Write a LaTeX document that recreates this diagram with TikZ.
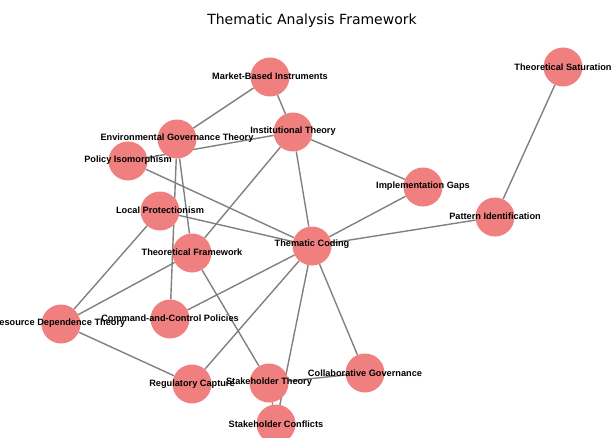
\documentclass[tikz,border=0pt]{standalone}
\usepackage{fontspec}
\setmainfont{Liberation Sans}
\newfontfamily\titlefont{DejaVu Sans}
\definecolor{nodefill}{RGB}{240,128,128}
\definecolor{edgegray}{RGB}{128,128,128}
\pgfdeclarelayer{bg}
\pgfsetlayers{bg,main}
\begin{document}
\begin{tikzpicture}[x=1pt,y=1pt,
  vert/.style={circle,fill=nodefill,draw=none,minimum size=39pt,inner sep=0pt},
  lbl/.style={font=\bfseries\fontsize{9.2}{10}\selectfont,text=black,inner sep=0pt},
  edge/.style={draw=edgegray,line width=1.4pt}]
\useasboundingbox (0,0) rectangle (612,437);
\node[font=\titlefont\fontsize{14}{16}\selectfont] (title) at (312,416) {Thematic Analysis Framework};
% nodes
\node[vert] (mb) at (270,360) {};
\node[vert] (it) at (293,305) {};
\node[vert] (egt) at (177,298) {};
\node[vert] (pi) at (128,276) {};
\node[vert] (lp) at (160,226) {};
\node[vert] (tf) at (192,184) {};
\node[vert] (tc) at (312,191) {};
\node[vert] (ig) at (423,250) {};
\node[vert] (pat) at (495,220) {};
\node[vert] (ts) at (563,370) {};
\node[vert] (rdt) at (61,113) {};
\node[vert] (ccp) at (170,118) {};
\node[vert] (rc) at (192,53) {};
\node[vert] (st) at (269,54) {};
\node[vert] (sc) at (276,13) {};
\node[vert] (cg) at (365,64) {};
% edges
\begin{pgfonlayer}{bg}
\foreach \a/\b in {mb/egt,mb/it,pi/it,pi/tc,egt/tf,egt/ccp,it/tf,it/tc,it/ig,ig/tc,pat/tc,pat/ts,lp/tc,lp/rdt,tf/rdt,tf/st,ccp/tc,rdt/rc,rc/tc,tc/sc,st/sc,st/cg,cg/tc}
  \draw[edge] (\a) -- (\b);
\end{pgfonlayer}
% labels
\node[lbl] (mb-t) at ([yshift=1pt]mb) {Market-Based Instruments};
\node[lbl] (it-t) at ([yshift=1pt]it) {Institutional Theory};
\node[lbl] (egt-t) at ([yshift=1pt]egt) {Environmental Governance Theory};
\node[lbl] (pi-t) at ([yshift=1pt]pi) {Policy Isomorphism};
\node[lbl] (lp-t) at ([yshift=1pt]lp) {Local Protectionism};
\node[lbl] (tf-t) at ([yshift=1pt]tf) {Theoretical Framework};
\node[lbl] (tc-t) at ([yshift=2pt]tc) {Thematic Coding};
\node[lbl] (ig-t) at ([yshift=1pt]ig) {Implementation Gaps};
\node[lbl] (pat-t) at ([yshift=1pt]pat) {Pattern Identification};
\node[lbl] (ts-t) at ([yshift=0pt]ts) {Theoretical Saturation};
\node[lbl] (rdt-t) at ([xshift=-2pt,yshift=1pt]rdt) {Resource Dependence Theory};
\node[lbl] (ccp-t) at ([yshift=1pt]ccp) {Command-and-Control Policies};
\node[lbl] (rc-t) at ([yshift=0pt]rc) {Regulatory Capture};
\node[lbl] (st-t) at ([yshift=1pt]st) {Stakeholder Theory};
\node[lbl] (sc-t) at ([yshift=0pt]sc) {Stakeholder Conflicts};
\node[lbl] (cg-t) at ([yshift=0pt]cg) {Collaborative Governance};
\end{tikzpicture}
\end{document}
